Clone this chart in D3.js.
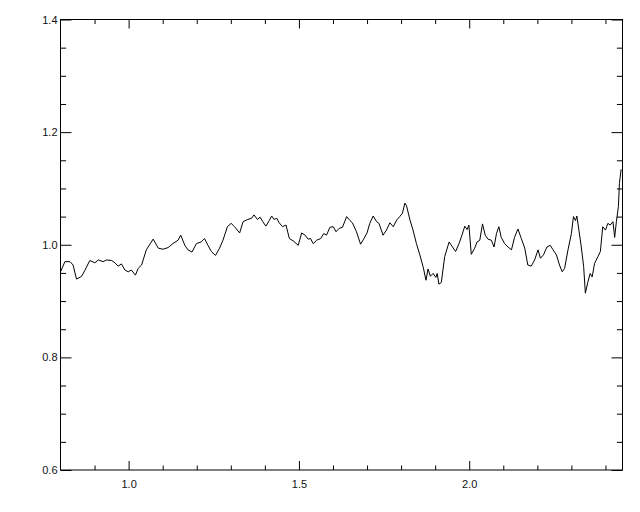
<!DOCTYPE html>
<html>
<head>
<meta charset="utf-8">
<script src="https://cdn.jsdelivr.net/npm/d3@7"></script>
<style>
  html, body { margin: 0; padding: 0; background: #fff; }
  svg { display: block; }
  .tick text { font-family: "Liberation Sans", Arial, sans-serif; font-size: 11px; fill: #111; }
</style>
</head>
<body>
<div id="chart"></div>
<script>
// spectrum-like trace
const xValues = [
  0.800, 0.813, 0.828, 0.837, 0.847, 0.862, 0.872, 0.886, 0.901, 0.911,
  0.925, 0.935, 0.950, 0.960, 0.969, 0.979, 0.989, 0.999, 1.008, 1.020,
  1.028, 1.038, 1.052, 1.072, 1.087, 1.101, 1.116, 1.130, 1.145, 1.153,
  1.165, 1.174, 1.186, 1.199, 1.213, 1.223, 1.233, 1.243, 1.255, 1.267,
  1.277, 1.290, 1.301, 1.311, 1.326, 1.336, 1.350, 1.361, 1.368, 1.378,
  1.386, 1.394, 1.403, 1.413, 1.420, 1.427, 1.435, 1.442, 1.452, 1.462,
  1.472, 1.483, 1.498, 1.508, 1.518, 1.527, 1.534, 1.542, 1.552, 1.564,
  1.573, 1.581, 1.591, 1.601, 1.609, 1.618, 1.628, 1.640, 1.650, 1.657,
  1.669, 1.681, 1.691, 1.700, 1.708, 1.718, 1.728, 1.735, 1.747, 1.757,
  1.767, 1.777, 1.787, 1.796, 1.804, 1.811, 1.816, 1.826, 1.835, 1.845,
  1.855, 1.865, 1.873, 1.879, 1.886, 1.894, 1.902, 1.906, 1.911, 1.918,
  1.928, 1.941, 1.951, 1.960, 1.970, 1.977, 1.987, 1.994, 1.999, 2.006,
  2.016, 2.023, 2.031, 2.039, 2.047, 2.055, 2.065, 2.073, 2.080, 2.087,
  2.094, 2.104, 2.114, 2.124, 2.133, 2.143, 2.153, 2.163, 2.172, 2.182,
  2.192, 2.202, 2.209, 2.218, 2.228, 2.238, 2.246, 2.256, 2.265, 2.273,
  2.280, 2.290, 2.300, 2.306, 2.312, 2.316, 2.322, 2.329, 2.336, 2.341,
  2.348, 2.355, 2.361, 2.368, 2.378, 2.385, 2.392, 2.400, 2.407, 2.414,
  2.422, 2.427, 2.432, 2.438, 2.441, 2.446
];
const yValues = [
  0.952, 0.970, 0.970, 0.964, 0.939, 0.944, 0.955, 0.972, 0.968, 0.973,
  0.970, 0.973, 0.972, 0.968, 0.962, 0.966, 0.955, 0.952, 0.955, 0.946,
  0.958, 0.964, 0.991, 1.010, 0.994, 0.992, 0.995, 1.002, 1.008, 1.017,
  0.999, 0.991, 0.987, 1.002, 1.005, 1.011, 0.999, 0.988, 0.981, 0.994,
  1.008, 1.032, 1.038, 1.032, 1.021, 1.041, 1.045, 1.047, 1.053, 1.045,
  1.049, 1.041, 1.033, 1.043, 1.051, 1.045, 1.047, 1.039, 1.032, 1.035,
  1.011, 1.007, 0.999, 1.021, 1.017, 1.010, 1.011, 1.002, 1.008, 1.011,
  1.020, 1.017, 1.031, 1.032, 1.023, 1.029, 1.031, 1.050, 1.043, 1.039,
  1.023, 1.001, 1.011, 1.021, 1.038, 1.051, 1.041, 1.038, 1.017, 1.026,
  1.039, 1.032, 1.044, 1.050, 1.056, 1.074, 1.069, 1.044, 1.026, 1.002,
  0.982, 0.960, 0.937, 0.957, 0.944, 0.949, 0.942, 0.949, 0.930, 0.933,
  0.979, 1.005, 0.996, 0.988, 1.002, 1.014, 1.033, 1.027, 1.035, 0.983,
  0.994, 1.005, 1.008, 1.037, 1.017, 1.010, 1.008, 0.996, 1.020, 1.032,
  1.013, 1.002, 0.996, 0.991, 1.013, 1.028, 1.011, 0.994, 0.964, 0.962,
  0.973, 0.991, 0.976, 0.982, 0.996, 0.999, 0.991, 0.982, 0.964, 0.952,
  0.958, 0.991, 1.020, 1.050, 1.043, 1.051, 1.026, 0.996, 0.961, 0.914,
  0.933, 0.949, 0.943, 0.967, 0.979, 0.988, 1.032, 1.026, 1.038, 1.035,
  1.041, 1.013, 1.041, 1.068, 1.109, 1.134
];

const xDomain = [0.8, 2.45];
const yDomain = [0.6, 1.4];
const xMajorTicks = [1.0, 1.5, 2.0];
const xMinorTicks = [0.9, 1.1, 1.2, 1.3, 1.4, 1.6, 1.7, 1.8, 1.9, 2.1, 2.2, 2.3, 2.4];
const yMajorTicks = [0.6, 0.8, 1.0, 1.2, 1.4];
const yMinorTicks = [0.65, 0.7, 0.75, 0.85, 0.9, 0.95, 1.05, 1.1, 1.15, 1.25, 1.3, 1.35];

const width = 640, height = 512;
const margin = { top: 19.5, right: 17.5, bottom: 42, left: 60.5 };
const innerW = width - margin.left - margin.right;
const innerH = height - margin.top - margin.bottom;

const svg = d3.select("#chart")
  .append("svg")
  .attr("width", width)
  .attr("height", height);

svg.append("rect")
  .attr("width", width)
  .attr("height", height)
  .attr("fill", "#fff");

const g = svg.append("g")
  .attr("transform", `translate(${margin.left},${margin.top})`);

const x = d3.scaleLinear().domain(xDomain).range([0, innerW]);
const y = d3.scaleLinear().domain(yDomain).range([innerH, 0]);

const fmt = d3.format(".1f");
const xMajLen = 9, xMinLen = 4.5, yMajLen = 11, yMinLen = 5.6;

function styleAxis(sel) {
  sel.select(".domain").remove();
  sel.selectAll(".tick line").attr("stroke", "#000").attr("stroke-width", 1);
}

// bottom
g.append("g").attr("transform", `translate(0,${innerH})`)
  .call(d3.axisBottom(x).tickValues(xMajorTicks).tickSize(-xMajLen).tickPadding(10).tickFormat(fmt))
  .call(styleAxis);
g.append("g").attr("transform", `translate(0,${innerH})`)
  .call(d3.axisBottom(x).tickValues(xMinorTicks).tickSize(-xMinLen).tickFormat(""))
  .call(styleAxis);
// top
g.append("g")
  .call(d3.axisTop(x).tickValues(xMajorTicks).tickSize(-xMajLen).tickFormat(""))
  .call(styleAxis);
g.append("g")
  .call(d3.axisTop(x).tickValues(xMinorTicks).tickSize(-xMinLen).tickFormat(""))
  .call(styleAxis);
// left
g.append("g")
  .call(d3.axisLeft(y).tickValues(yMajorTicks).tickSize(-yMajLen).tickPadding(3).tickFormat(fmt))
  .call(styleAxis);
g.append("g")
  .call(d3.axisLeft(y).tickValues(yMinorTicks).tickSize(-yMinLen).tickFormat(""))
  .call(styleAxis);
// right
g.append("g").attr("transform", `translate(${innerW},0)`)
  .call(d3.axisRight(y).tickValues(yMajorTicks).tickSize(-yMajLen).tickFormat(""))
  .call(styleAxis);
g.append("g").attr("transform", `translate(${innerW},0)`)
  .call(d3.axisRight(y).tickValues(yMinorTicks).tickSize(-yMinLen).tickFormat(""))
  .call(styleAxis);

g.append("rect")
  .attr("width", innerW)
  .attr("height", innerH)
  .attr("fill", "none")
  .attr("stroke", "#000")
  .attr("stroke-width", 1);

const points = xValues.map((v, i) => ({ x: v, y: yValues[i] }));

const line = d3.line()
  .x(d => x(d.x))
  .y(d => y(d.y));

g.append("path")
  .datum(points)
  .attr("fill", "none")
  .attr("stroke", "#000")
  .attr("stroke-width", 1)
  .attr("d", line);
</script>
</body>
</html>
